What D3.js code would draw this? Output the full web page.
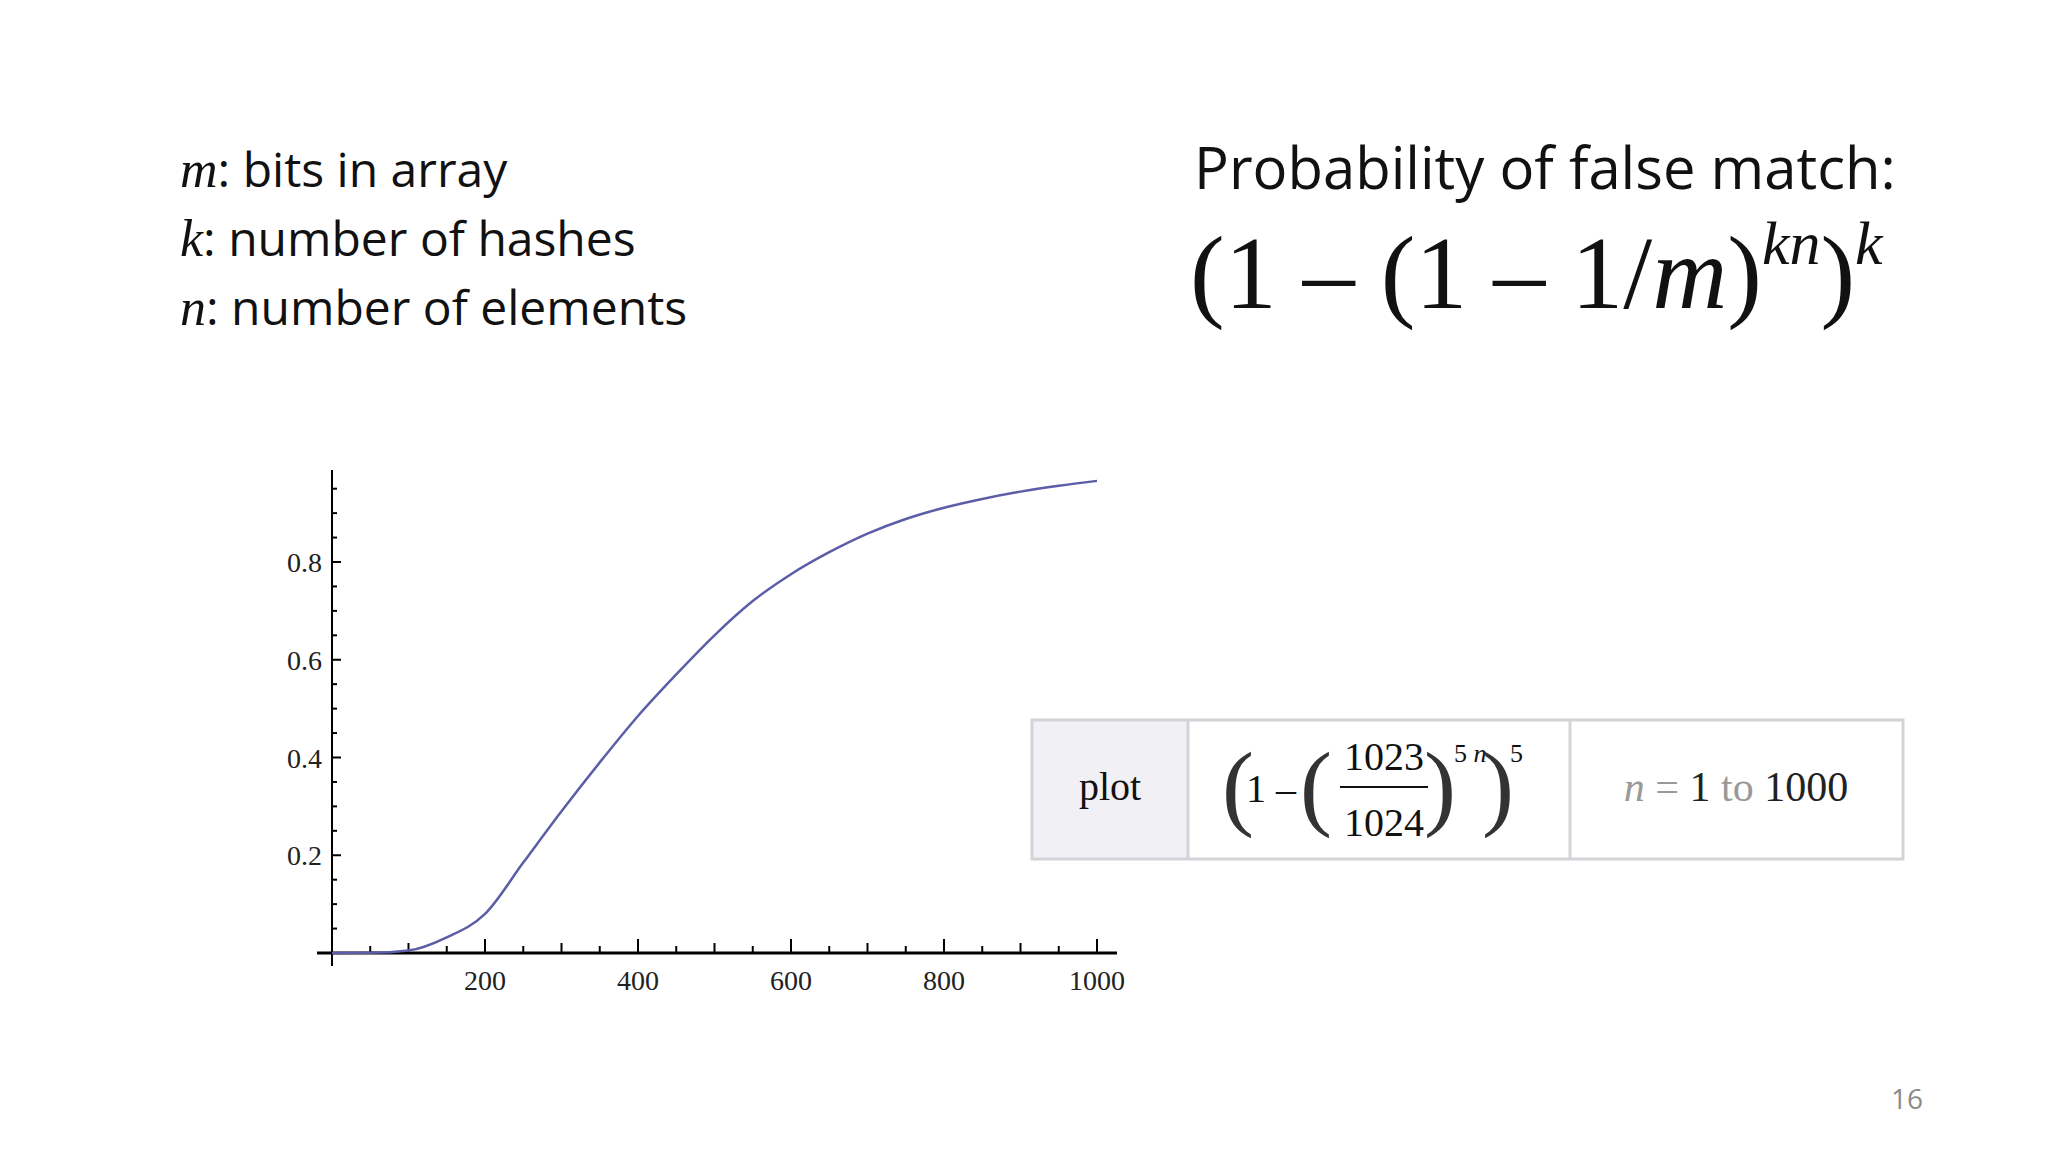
<!DOCTYPE html>
<html><head><meta charset="utf-8">
<script src="https://cdn.jsdelivr.net/npm/d3@7"></script>
<style>body{margin:0;background:#fff}</style></head>
<body><svg id="c" width="2048" height="1152"></svg>
<script>
const nValues = [0, 50, 100, 150, 200, 250, 300, 350, 400, 450, 500, 550, 600, 650, 700, 750, 800, 850, 900, 950, 1000];
const probValues = [0, 0.0003, 0.005, 0.032, 0.08, 0.185, 0.29, 0.39, 0.485, 0.57, 0.65, 0.72, 0.775, 0.82, 0.858, 0.888, 0.911, 0.929, 0.944, 0.956, 0.966];
const xTickLabels = [200, 400, 600, 800, 1000];
const yTickLabels = [0.2, 0.4, 0.6, 0.8];

const svg = d3.select("#c");
const x = d3.scaleLinear().domain([0, 1000]).range([332, 1097]);
const y = d3.scaleLinear().domain([0, 0.8]).range([953, 562]);
const serif = "'Liberation Serif', 'DejaVu Serif', serif";
const sans = "'Open Sans', 'Liberation Sans', sans-serif";

const defs = [["m", ": bits in array"], ["k", ": number of hashes"], ["n", ": number of elements"]];
defs.forEach((d, i) => {
  const t = svg.append("text").attr("x", 180).attr("y", 187 + i * 69).attr("font-size", 48).attr("fill", "#111");
  t.append("tspan").attr("font-family", serif).attr("font-style", "italic").attr("font-size", 52).text(d[0]);
  t.append("tspan").attr("font-family", sans).text(d[1]);
});
svg.append("text").attr("x", 1194).attr("y", 189).attr("font-family", sans).attr("font-size", 58).attr("fill", "#111").text("Probability of false match:");
const f = svg.append("text").attr("x", 1190).attr("y", 308).attr("font-family", serif).attr("font-size", 104).attr("fill", "#111");
f.append("tspan").text("(1 – (1 – 1/");
f.append("tspan").attr("font-style", "italic").text("m");
f.append("tspan").text(")");
f.append("tspan").attr("font-style", "italic").attr("font-size", 62).attr("dy", -44).text("kn");
f.append("tspan").attr("dy", 44).text(")");
f.append("tspan").attr("font-style", "italic").attr("font-size", 62).attr("dy", -44).text("k");

const g = svg.append("g").attr("stroke", "#000");
g.append("line").attr("x1", x(0)).attr("x2", x(0)).attr("y1", 470).attr("y2", 966).attr("stroke-width", 2);
g.append("line").attr("x1", 317).attr("x2", 1117).attr("y1", y(0)).attr("y2", y(0)).attr("stroke-width", 3);
d3.range(50, 1001, 50).forEach(v => {
  const len = v % 200 === 0 ? 14 : (v % 100 === 0 ? 10 : 7);
  g.append("line").attr("x1", x(v)).attr("x2", x(v)).attr("y1", y(0)).attr("y2", y(0) - len).attr("stroke-width", 2);
});
d3.range(1, 20).map(i => i * 0.05).forEach(v => {
  const major = Math.abs(v * 5 - Math.round(v * 5)) < 1e-9;
  g.append("line").attr("x1", x(0)).attr("x2", x(0) + (major ? 9 : 5)).attr("y1", y(v)).attr("y2", y(v)).attr("stroke-width", 2);
});
svg.selectAll(".xl").data(xTickLabels).join("text").attr("x", d => x(d)).attr("y", 990)
  .attr("text-anchor", "middle").attr("font-family", serif).attr("font-size", 28).attr("fill", "#222").text(d => d);
svg.selectAll(".yl").data(yTickLabels).join("text").attr("x", 322).attr("y", d => y(d) + 10)
  .attr("text-anchor", "end").attr("font-family", serif).attr("font-size", 28).attr("fill", "#222").text(d => d.toFixed(1));

const pts = nValues.map((n, i) => [n, probValues[i]]);
svg.append("path").datum(pts).attr("fill", "none").attr("stroke", "#5b5ea6").attr("stroke-width", 2.5)
  .attr("d", d3.line().x(d => x(d[0])).y(d => y(d[1])).curve(d3.curveMonotoneX));

const bx = [1032, 1188, 1570, 1903], by = [720, 859];
svg.append("rect").attr("x", bx[0]).attr("y", by[0]).attr("width", bx[1] - bx[0]).attr("height", by[1] - by[0]).attr("fill", "#f1f0f4");
svg.append("rect").attr("x", bx[0]).attr("y", by[0]).attr("width", bx[3] - bx[0]).attr("height", by[1] - by[0]).attr("fill", "none").attr("stroke", "#d4d4d8").attr("stroke-width", 3);
[bx[1], bx[2]].forEach(v => svg.append("line").attr("x1", v).attr("x2", v).attr("y1", by[0]).attr("y2", by[1]).attr("stroke", "#d4d4d8").attr("stroke-width", 3));
svg.append("text").attr("x", 1110).attr("y", 800).attr("text-anchor", "middle").attr("font-family", serif).attr("font-size", 40).attr("fill", "#111").text("plot");
const ef = serif;
svg.append("text").attr("x", 1222).attr("y", 818).attr("font-family", ef).attr("font-size", 96).attr("font-weight", 100).attr("fill", "#333").text("(");
svg.append("text").attr("x", 1246).attr("y", 802).attr("font-family", ef).attr("font-size", 40).attr("fill", "#111").text("1 –");
svg.append("text").attr("x", 1300).attr("y", 818).attr("font-family", ef).attr("font-size", 96).attr("fill", "#333").text("(");
svg.append("text").attr("x", 1384).attr("y", 770).attr("text-anchor", "middle").attr("font-family", ef).attr("font-size", 40).attr("fill", "#111").text("1023");
svg.append("line").attr("x1", 1340).attr("x2", 1428).attr("y1", 787).attr("y2", 787).attr("stroke", "#111").attr("stroke-width", 2);
svg.append("text").attr("x", 1384).attr("y", 836).attr("text-anchor", "middle").attr("font-family", ef).attr("font-size", 40).attr("fill", "#111").text("1024");
svg.append("text").attr("x", 1424).attr("y", 818).attr("font-family", ef).attr("font-size", 96).attr("fill", "#333").text(")");
const sup = svg.append("text").attr("x", 1454).attr("y", 762).attr("font-family", ef).attr("font-size", 26).attr("fill", "#111");
sup.append("tspan").text("5 ");
sup.append("tspan").attr("font-style", "italic").text("n");
svg.append("text").attr("x", 1482).attr("y", 818).attr("font-family", ef).attr("font-size", 96).attr("fill", "#333").text(")");
svg.append("text").attr("x", 1510).attr("y", 762).attr("font-family", ef).attr("font-size", 26).attr("fill", "#111").text("5");
const rng = svg.append("text").attr("x", 1736).attr("y", 801).attr("text-anchor", "middle").attr("font-family", ef).attr("font-size", 42);
rng.append("tspan").attr("fill", "#999").attr("font-style", "italic").text("n");
rng.append("tspan").attr("fill", "#999").text(" = ");
rng.append("tspan").attr("fill", "#222").text("1");
rng.append("tspan").attr("fill", "#999").text(" to ");
rng.append("tspan").attr("fill", "#222").text("1000");

svg.append("text").attr("x", 1907).attr("y", 1109).attr("text-anchor", "middle").attr("font-family", sans).attr("font-size", 28).attr("fill", "#8a8a8a").text("16");
</script></body></html>
